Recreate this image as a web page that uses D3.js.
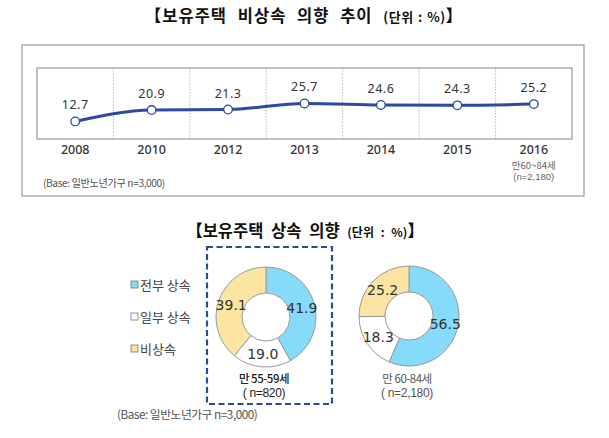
<!DOCTYPE html>
<html><head><meta charset="utf-8">
<script src="https://cdn.jsdelivr.net/npm/d3@7"></script>
<style>
html,body{margin:0;padding:0;background:#fff;}
svg{display:block;font-family:"Noto Sans CJK KR","Noto Sans",sans-serif;}
</style></head>
<body><svg id="c" width="609" height="438"></svg>
<script>
const years = ['2008','2010','2012','2013','2014','2015','2016'];
const rates = [12.7,20.9,21.3,25.7,24.6,24.3,25.2];
const categories = ['전부 상속','일부 상속','비상속'];
const group1 = [41.9,19.0,39.1];
const group2 = [56.5,18.3,25.2];
const colors = ['#86DAFA','#FFFFFF','#FCE4A3'];

const svg = d3.select('#c');

// Title 1
const t1 = svg.append('text').attr('x',304).attr('y',22).attr('text-anchor','middle')
  .attr('font-weight','bold').attr('font-size',16.5).attr('fill','#111').attr('letter-spacing',1);
t1.append('tspan').attr('word-spacing',6).text('【보유주택 비상속 의향 추이 ');
t1.append('tspan').attr('font-size',13).attr('word-spacing',1).attr('letter-spacing',0.5).text('(단위 : %)');
t1.append('tspan').text('】');

// outer box
svg.append('rect').attr('x',22).attr('y',45).attr('width',562).attr('height',151)
  .attr('fill','none').attr('stroke','#999').attr('stroke-width',1.2);

const L={x0:37,x1:572,y0:68,y1:139};
const x = d3.scaleBand().domain(years).range([L.x0,L.x1]);
const y = d3.scaleLinear().domain([0,51.3]).range([L.y1,L.y0]);

// grid dividers
const g = svg.append('g');
years.slice(1).forEach(yr=>{
  g.append('line').attr('x1',x(yr)).attr('x2',x(yr)).attr('y1',L.y0).attr('y2',L.y1)
   .attr('stroke','#bbb').attr('stroke-dasharray','1.5,1.5');
});
g.append('rect').attr('x',L.x0).attr('y',L.y0).attr('width',L.x1-L.x0).attr('height',L.y1-L.y0)
  .attr('fill','none').attr('stroke','#999').attr('stroke-width',1.2);

// x axis
const xa = svg.append('g').attr('transform',`translate(0,${L.y1})`)
  .call(d3.axisBottom(x).tickSize(0).tickPadding(6));
xa.select('.domain').remove();
xa.selectAll('text').attr('font-size',12.5).attr('fill','#333').attr('font-family','"Noto Sans",sans-serif').attr('font-weight','500');

const cx = d => x(d)+x.bandwidth()/2;
const line = d3.line().x((d,i)=>cx(years[i])).y(d=>y(d)).curve(d3.curveMonotoneX);
svg.append('path').datum(rates).attr('d',line).attr('fill','none')
  .attr('stroke','#2C4A9F').attr('stroke-width',3);
svg.selectAll('.pt').data(rates).join('circle').attr('cx',(d,i)=>cx(years[i])).attr('cy',d=>y(d))
  .attr('r',4.3).attr('fill','#fff').attr('stroke','#2C4A9F').attr('stroke-width',1.3);
svg.selectAll('.vl').data(rates).join('text').attr('x',(d,i)=>cx(years[i])).attr('y',d=>y(d)-12)
  .attr('text-anchor','middle').attr('font-size',12.5).attr('fill','#333')
  .attr('font-family','"Noto Sans",sans-serif').attr('letter-spacing',0.5).text(d=>d.toFixed(1));

svg.append('text').attr('x',cx('2016')).attr('y',169).attr('text-anchor','middle').attr('font-size',9.5).attr('fill','#666').text('만60~84세');
svg.append('text').attr('x',cx('2016')).attr('y',180).attr('text-anchor','middle').attr('font-size',9.5).attr('fill','#666')
  .attr('font-family','"Liberation Sans",sans-serif').text('(n=2,180)');
svg.append('text').attr('x',43).attr('y',187).attr('font-size',10.2).attr('fill','#555').attr('letter-spacing',-0.4).text('(Base:  일반노년가구  n=3,000)');

// Title 2
const t2 = svg.append('text').attr('x',305).attr('y',237).attr('text-anchor','middle')
  .attr('font-weight','bold').attr('font-size',16.5).attr('fill','#111').attr('word-spacing',4);
t2.append('tspan').text('【보유주택 상속 의향 ');
t2.append('tspan').attr('font-size',12).text('(단위 : %)');
t2.append('tspan').text('】');

// dashed box
svg.append('rect').attr('x',207).attr('y',247).attr('width',125).attr('height',157)
  .attr('fill','none').attr('stroke','#2B4A9E').attr('stroke-width',2.2).attr('stroke-dasharray','6,3.5');

// legend
categories.forEach((c,i)=>{
  const yy = [285,317,349][i];
  svg.append('rect').attr('x',131).attr('y',yy-4).attr('width',7).attr('height',7)
    .attr('fill',colors[i]).attr('stroke','#777').attr('stroke-width',0.8);
  svg.append('text').attr('x',140).attr('y',yy+4.5).attr('font-size',13).attr('fill','#444').text(c);
});

const pie = d3.pie().sort(null).value(d=>d);
const arc = d3.arc().innerRadius(24).outerRadius(50);
const lab = d3.arc().innerRadius(37).outerRadius(37);
function donut(data,cxp,cyp,cap1,cap2,capColor,capWeight){
  const gg = svg.append('g').attr('transform',`translate(${cxp},${cyp})`);
  const arcs = pie(data);
  gg.selectAll('path').data(arcs).join('path').attr('d',arc)
    .attr('fill',(d,i)=>colors[i]).attr('stroke','#999').attr('stroke-width',1);
  gg.selectAll('text').data(arcs).join('text')
    .attr('transform',d=>`translate(${lab.centroid(d)})`).attr('text-anchor','middle').attr('dy','0.36em')
    .attr('font-size',14).attr('fill','#333').attr('font-family','"DejaVu Sans",sans-serif').text(d=>d.data.toFixed(1));
  svg.append('text').attr('x',cxp-2).attr('y',383).attr('text-anchor','middle').attr('font-size',11.5).attr('fill',capColor).attr('font-weight',capWeight).attr('letter-spacing',-0.5).text(cap1);
  svg.append('text').attr('x',cxp-2).attr('y',397).attr('text-anchor','middle').attr('font-size',12).attr('fill',capColor).attr('font-weight',capWeight).attr('letter-spacing',-0.3)
    .attr('font-family','"Liberation Sans",sans-serif').text(cap2);
}
donut(group1,266,317,'만 55-59세','( n=820)','#222','500');
donut(group2,409,316,'만 60-84세','( n=2,180)','#555','normal');

svg.append('text').attr('x',117).attr('y',419).attr('font-size',11.8).attr('fill','#555').attr('letter-spacing',-0.5).text('(Base:  일반노년가구  n=3,000)');
</script></body></html>
